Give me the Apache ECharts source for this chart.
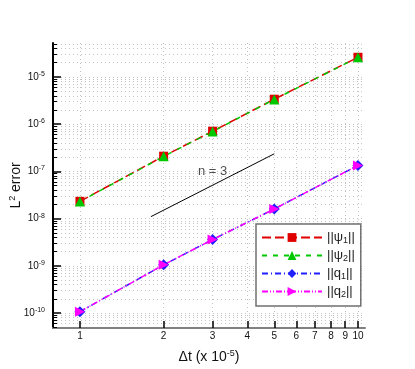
<!DOCTYPE html>
<html>
<head>
<meta charset="utf-8">
<script src="https://cdn.jsdelivr.net/npm/echarts@6/dist/echarts.min.js"></script>
<style>
  html, body { margin: 0; padding: 0; background: #fff; }
  #main { width: 415px; height: 369px; }
</style>
</head>
<body>
<div id="main"></div>
<script>
// time steps (x 1e-5) and L2 errors
var dt = [1, 2, 3, 5, 10];
var psi1 = [2.32e-8, 2.1e-7, 7.1e-7, 3.38e-6, 2.61e-5];
var psi2 = [2.3e-8, 2.08e-7, 7.0e-7, 3.35e-6, 2.6e-5];
var q1 = [1.07e-10, 1.05e-9, 3.6e-9, 1.6e-8, 1.34e-7];
var q2 = [1.07e-10, 1.05e-9, 3.6e-9, 1.6e-8, 1.34e-7];
// reference slope line n = 3
var slopeX = [1.8, 5];
var slopeY = [1.1e-8, 2.36e-7];
// tick labels
var xTicks = [1, 2, 3, 4, 5, 6, 7, 8, 9, 10];
var yMajor = [1e-10, 1e-9, 1e-8, 1e-7, 1e-6, 1e-5];
var yMinor = [];
for (var e = -11; e <= -5; e++) {
  for (var m = 2; m <= 9; m++) {
    var v = m * Math.pow(10, e);
    if (v > 4.82e-11 && v < 5.24e-5) yMinor.push(v);
  }
}

function pairs(xs, ys) {
  var out = [];
  for (var i = 0; i < xs.length; i++) out.push([xs[i], ys[i]]);
  return out;
}

var font = 'Liberation Sans';
var gridLine = { show: true, lineStyle: { color: '#c4c4c4', type: [1, 3], width: 1 } };

var myChart = echarts.init(document.getElementById('main'));
var option = {
  animation: false,
  textStyle: { fontFamily: font },
  grid: { left: 53, top: 43, right: 50, bottom: 41, containLabel: false, outerBoundsMode: 'none' },
  legend: {
    orient: 'vertical',
    left: 256, top: 224,
    padding: [7, 6, 7, 5],
    itemGap: 4,
    itemWidth: 60, itemHeight: 11,
    backgroundColor: '#fff',
    borderColor: '#707070', borderWidth: 1.5, borderRadius: 0,
    data: ['psi1', 'psi2', 'q1', 'q2'],
    formatter: function (name) {
      var base = name.charAt(0) === 'p' ? 'ψ' : 'q';
      return '{t|||' + base + '}{s|' + name.slice(-1) + '}{t|||}';
    },
    textStyle: {
      fontFamily: font,
      rich: {
        t: { fontSize: 13, color: '#222', fontFamily: font },
        s: { fontSize: 9, color: '#222', fontFamily: font, verticalAlign: 'bottom', padding: [6, 0, 0, 0] }
      }
    }
  },
  xAxis: {
    type: 'log', logBase: 10, min: 0.8, max: 10.6,
    name: 'Δt (x 10{sup|-5})',
    nameLocation: 'middle', nameGap: 21, nameMoveOverlap: false,
    nameTextStyle: {
      fontSize: 14, color: '#111', fontFamily: font,
      rich: { sup: { fontSize: 9, color: '#111', fontFamily: font, verticalAlign: 'top', padding: [0, 0, 7, 0] } }
    },
    axisLine: { show: true, lineStyle: { color: '#808080', width: 2 } },
    axisTick: { show: true, inside: true, length: 7, customValues: xTicks, lineStyle: { color: '#000', width: 1.5 } },
    axisLabel: { customValues: xTicks, fontSize: 10, color: '#111', margin: 3, fontFamily: font },
    splitLine: gridLine,
    minorTick: { show: false }
  },
  yAxis: [{
    type: 'log', logBase: 10, min: 4.82e-11, max: 5.24e-5,
    name: 'L{sup|2} error',
    nameLocation: 'middle', nameGap: 29, nameRotate: 90, nameMoveOverlap: false,
    nameTextStyle: {
      fontSize: 14, color: '#111', fontFamily: font,
      rich: { sup: { fontSize: 9, color: '#111', fontFamily: font, verticalAlign: 'top', padding: [0, 0, 7, 0] } }
    },
    axisLine: { show: true, lineStyle: { color: '#000', width: 2 } },
    axisTick: { show: true, inside: true, length: 8, customValues: yMajor, lineStyle: { color: '#000', width: 1.5 } },
    axisLabel: {
      customValues: yMajor, margin: 8, color: '#111',
      formatter: function (v) {
        return '{b|10}{e|' + Math.round(Math.log10(v)) + '}';
      },
      rich: {
        b: { fontSize: 10, color: '#111', fontFamily: font },
        e: { fontSize: 7, color: '#111', fontFamily: font, verticalAlign: 'top', padding: [0, 0, 6, 0] }
      }
    },
    splitLine: gridLine
  }, {
    type: 'log', logBase: 10, min: 4.82e-11, max: 5.24e-5,
    position: 'left', offset: 0,
    axisLine: { show: false },
    axisTick: { show: true, inside: true, length: 4, customValues: yMinor, lineStyle: { color: '#000', width: 1 } },
    axisLabel: { show: false, customValues: yMinor },
    splitLine: gridLine
  }],
  series: [{
    name: 'psi1', type: 'line', data: pairs(dt, psi1),
    symbol: 'rect', symbolSize: 9,
    itemStyle: { color: '#e00000' },
    lineStyle: { color: '#e00000', width: 1.5, type: [9, 4] }
  }, {
    name: 'psi2', type: 'line', data: pairs(dt, psi2),
    symbol: 'triangle', symbolSize: 10,
    itemStyle: { color: '#00c800' },
    lineStyle: { color: '#00c800', width: 1.5, type: [5, 6] }
  }, {
    name: 'q1', type: 'line', data: pairs(dt, q1),
    symbol: 'diamond', symbolSize: 11,
    itemStyle: { color: '#2020ff' },
    lineStyle: { color: '#2020ff', width: 1.5, type: [6, 3, 1, 3] }
  }, {
    name: 'q2', type: 'line', data: pairs(dt, q2),
    symbol: 'path://M0,0L10,5L0,10Z', symbolSize: 10,
    itemStyle: { color: '#ff00ff' },
    lineStyle: { color: '#ff00ff', width: 1.5, type: [6, 2, 1, 2, 1, 2] }
  }, {
    name: 'slope', type: 'line', data: pairs(slopeX, slopeY),
    symbol: 'none', silent: true,
    lineStyle: { color: '#000', width: 1, type: 'solid' }
  }, {
    name: 'slopeLabel', type: 'scatter', data: [[3, 1.0e-7]],
    symbolSize: 0, silent: true,
    label: { show: true, position: 'inside', formatter: 'n = 3', fontSize: 13, color: '#222', fontFamily: font }
  }]
};
myChart.setOption(option, true);
</script>
</body>
</html>
